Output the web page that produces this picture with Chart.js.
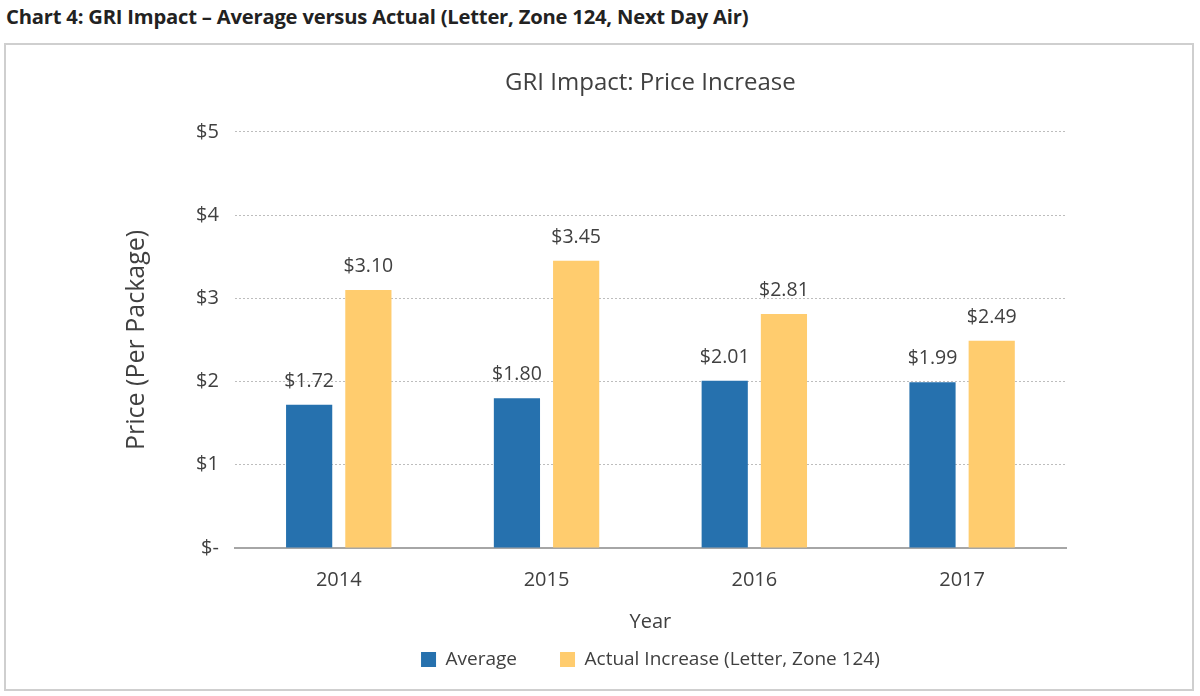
<!DOCTYPE html>
<html>
<head>
<meta charset="utf-8">
<script src="https://cdn.jsdelivr.net/npm/chart.js@4"></script>
<style>
  body { margin: 0; background: #fff; font-family: "Open Sans", sans-serif; }
  #hdr { position: absolute; left: 6px; top: 2px; font-size: 20.2px; font-weight: bold; color: #222; letter-spacing: -0.2px; }
  #box { position: absolute; left: 4px; top: 43px; width: 1186px; height: 644px; border: 2px solid #cfcfcf; }
</style>
</head>
<body>
<div id="hdr">Chart 4: GRI Impact – Average versus Actual (Letter, Zone 124, Next Day Air)</div>
<div id="box"><canvas id="chart"></canvas></div>
<script>
var years = ["2014", "2015", "2016", "2017"];
var averageValues = [1.72, 1.80, 2.01, 1.99];
var actualValues = [3.10, 3.45, 2.81, 2.49];
var yTicks = [0, 1, 2, 3, 4, 5];

// value labels above each bar
var barLabels = {
    id: 'barLabels',
    afterDatasetsDraw: function(chart) {
        var ctx = chart.ctx;
        ctx.save();
        ctx.font = '19.5px "Open Sans"';
        ctx.fillStyle = '#404040';
        ctx.textAlign = 'center';
        ctx.textBaseline = 'alphabetic';
        chart.data.datasets.forEach(function(ds, i) {
            chart.getDatasetMeta(i).data.forEach(function(bar, j) {
                ctx.fillText('$' + ds.data[j].toFixed(2), bar.x, bar.y - 18);
            });
        });
        ctx.restore();
    }
};

var data = {
    labels: years,
    datasets: [{
        label: "Average",
        data: averageValues,
        backgroundColor: "#2671AE"
    }, {
        label: "Actual Increase (Letter, Zone 124)",
        data: actualValues,
        backgroundColor: "#FFCC6E"
    }]
};

var options = {
    responsive: true,
    maintainAspectRatio: false,
    animation: false,
    layout: { padding: { left: 112, right: 126, top: 10, bottom: 10 } },
    datasets: { bar: { categoryPercentage: 0.57, barPercentage: 0.78 } },
    plugins: {
        title: {
            display: true,
            fullSize: false,
            text: "GRI Impact: Price Increase",
            color: '#404040',
            font: { family: 'Open Sans', size: 24, weight: 'normal' },
            padding: { top: 14, bottom: 34 }
        },
        legend: {
            position: 'bottom',
            fullSize: false,
            labels: {
                color: '#404040',
                font: { family: 'Open Sans', size: 19 },
                boxWidth: 15, boxHeight: 15,
                padding: 43
            }
        },
        tooltip: { enabled: false }
    },
    scales: {
        x: {
            grid: { display: false },
            border: { display: true, color: '#A6A6A6', width: 2 },
            ticks: { color: '#404040', font: { family: 'Open Sans', size: 20 }, padding: 12 },
            title: { display: true, text: 'Year', color: '#404040', font: { family: 'Open Sans', size: 20 }, padding: { top: 6, bottom: -27 } }
        },
        y: {
            min: 0, max: 5,
            afterBuildTicks: function(axis) { axis.ticks = yTicks.map(function(v) { return { value: v }; }); },
            grid: { color: '#bdbdbd', drawTicks: false },
            border: { display: false, dash: [2, 2] },
            ticks: {
                color: '#404040',
                font: { family: 'Open Sans', size: 20 },
                padding: 16,
                callback: function(v) { return v === 0 ? '$-' : '$' + v; }
            },
            title: { display: true, text: 'Price (Per Package)', color: '#404040', font: { family: 'Open Sans', size: 25 }, padding: { bottom: 28 } }
        }
    }
};

new Chart(document.getElementById('chart'), {
    type: 'bar',
    data: data,
    options: options,
    plugins: [barLabels]
});
</script>
</body>
</html>
